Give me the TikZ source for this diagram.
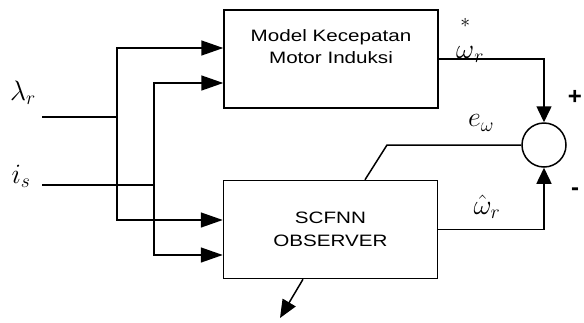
\RequirePackage{fix-cm}
\documentclass[tikz,border=0pt]{standalone}
\usepackage{amsmath}
\usepackage{fontspec}
\usetikzlibrary{arrows.meta, positioning, calc}
\newfontfamily\boxfont{Liberation Sans}[FakeStretch=1.25]
\newfontfamily\signfont{Liberation Sans}
\tikzset{
  blok/.style={draw, line width=1.5pt, minimum width=214pt, minimum height=98pt, inner sep=0pt},
  blokteks/.style={font=\boxfont\fontsize{16.5}{21.5}\selectfont, align=center, inner sep=0pt},
  sumnode/.style={circle, draw, line width=1.5pt, minimum size=44pt, inner sep=0pt},
  sinyal/.style={font=\fontsize{28}{32}\selectfont, inner sep=0pt},
  tanda/.style={font=\signfont\bfseries\fontsize{24}{28}\selectfont, inner sep=0pt},
  garis/.style={line width=1.5pt},
  panah/.style={garis, -{Triangle[length=22pt, width=15pt]}},
  panahsum/.style={garis, -{Triangle[length=16pt, width=15pt]}},
  panahout/.style={garis, -{Triangle[length=18pt, width=15pt]}},
}
\begin{document}
\begin{tikzpicture}[x=1pt, y=-1pt, line join=miter]
  \useasboundingbox (0,0) rectangle (584,322);

  %% ── Blocks ──
  \node[blok] (model) at (331,59) {};
  \node[blokteks] (modelteks) at (331,46.5) {Model Kecepatan\\Motor Induksi};
  \node[blok] (obs) at (330.5,229.5) {};
  \node[blokteks, font=\boxfont\fontsize{16.5}{23}\selectfont] (obsteks) at (obs.center) {SCFNN\\OBSERVER};
  \node[sumnode] (sum) at (544,145) {};

  %% ── Inputs ──
  \node[sinyal] (lam) at (23,93) {$\lambda_r$};
  \node[sinyal] (is) at (21,176) {$i_s$};
  \coordinate (lamin) at (42,117);
  \coordinate (lamjn) at (117,117);
  \coordinate (isin) at (42,185);
  \coordinate (isjn) at (154,185);

  \draw[garis] (lamin) -- (lamjn);
  \draw[panah] (lamjn) |- ([yshift=11pt]model.west);
  \draw[panah] (lamjn) |- ([yshift=9.5pt]obs.west);
  \draw[garis] (isin) -- (isjn);
  \draw[panah] (isjn) |- ([yshift=-24pt]model.west);
  \draw[panah] (isjn) |- ([yshift=-25.5pt]obs.west);

  %% ── Outputs and summing point ──
  \draw[panahsum] (model.east) -| (sum.north);
  \draw[panahsum] (obs.east) -| (sum.south);
  \coordinate (ebend) at (387,145);
  \draw[garis] (sum.west) -- (ebend) -- ([xshift=34.5pt]obs.north);
  \coordinate (keluar) at (280,318);
  \draw[panahout] ([xshift=-27.5pt]obs.south) -- (keluar);

  %% ── Labels ──
  \node[sinyal, anchor=base west] (wref) at (456,58) {$\overset{\raisebox{1.1ex}{$\scriptstyle *$}}{\omega}_r$};
  \node[sinyal] (ew) at (481,123) {$e_\omega$};
  \node[sinyal] (west) at (487,207) {$\hat{\omega}_r$};
  \node[tanda] (plus) at (575,97) {+};
  \node[tanda] (minus) at (575,192) {-};
\end{tikzpicture}
\end{document}
